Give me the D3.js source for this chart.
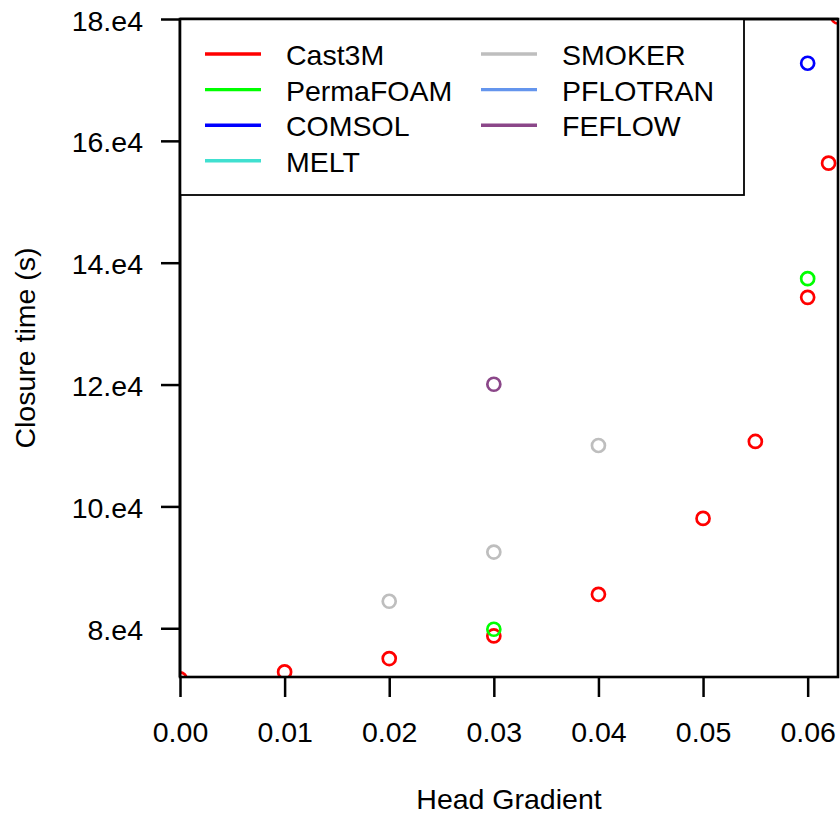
<!DOCTYPE html>
<html>
<head>
<meta charset="utf-8">
<script src="https://cdn.jsdelivr.net/npm/d3@7"></script>
<style>
  html, body { margin: 0; padding: 0; background: #fff; }
  text { font-family: "Liberation Sans", Arial, sans-serif; fill: #000; }
</style>
</head>
<body>
<svg id="chart" width="840" height="815"></svg>
<script>
// ---- data ----
const seriesNames = ["Cast3M", "PermaFOAM", "COMSOL", "MELT", "SMOKER", "PFLOTRAN", "FEFLOW"];
const seriesColors = ["#FF0000", "#00FF00", "#0000FF", "#40E0D0", "#BEBEBE", "#6495ED", "#8B4789"];

const cast3mX = [0.00, 0.01, 0.02, 0.03, 0.04, 0.05, 0.055, 0.06, 0.062, 0.0629];
const cast3mY = [71700, 72840, 75030, 78740, 85570, 98030, 110660, 134310, 156340, 180330];
const permafoamX = [0.03, 0.06];
const permafoamY = [79840, 137380];
const comsolX = [0.06];
const comsolY = [172740];
const smokerX = [0.02, 0.03, 0.04];
const smokerY = [84430, 92510, 110000];
const feflowX = [0.03];
const feflowY = [120050];

const xTicks = [0.00, 0.01, 0.02, 0.03, 0.04, 0.05, 0.06];
const xTickLabels = ["0.00", "0.01", "0.02", "0.03", "0.04", "0.05", "0.06"];
const yTicks = [80000, 100000, 120000, 140000, 160000, 180000];
const yTickLabels = ["8.e4", "10.e4", "12.e4", "14.e4", "16.e4", "18.e4"];

const xTitle = "Head Gradient";
const yTitle = "Closure time (s)";

// ---- layout ----
const svg = d3.select("#chart");
const L = 180, R = 838, T = 19, B = 677;
const FS = 28.5;

const x = d3.scaleLinear().domain([0, 0.0629]).range([L, R]);
const y = d3.scaleLinear().domain([72000, 180000]).range([B, T]);

const defs = svg.append("defs");
defs.append("clipPath").attr("id", "plotclip")
  .append("rect").attr("x", L).attr("y", T).attr("width", R - L).attr("height", B - T);

// points
const series = [
  { name: "Cast3M", xs: cast3mX, ys: cast3mY },
  { name: "PermaFOAM", xs: permafoamX, ys: permafoamY },
  { name: "COMSOL", xs: comsolX, ys: comsolY },
  { name: "SMOKER", xs: smokerX, ys: smokerY },
  { name: "FEFLOW", xs: feflowX, ys: feflowY }
];
const gPts = svg.append("g").attr("clip-path", "url(#plotclip)");
series.forEach(s => {
  const col = seriesColors[seriesNames.indexOf(s.name)];
  const pts = s.xs.map((v, i) => [v, s.ys[i]]);
  gPts.selectAll(null).data(pts).enter().append("circle")
    .attr("cx", d => x(d[0])).attr("cy", d => y(d[1]))
    .attr("r", 6.5).attr("fill", "none")
    .attr("stroke", col).attr("stroke-width", 2.7);
});

// x axis
const xAxis = d3.axisBottom(x).tickValues(xTicks)
  .tickFormat((d, i) => xTickLabels[i]).tickSize(20).tickSizeOuter(0);
const gx = svg.append("g").attr("transform", `translate(0,${B})`).call(xAxis);
gx.select(".domain").remove();
gx.selectAll(".tick line").attr("stroke", "#000").attr("stroke-width", 2.5);
gx.selectAll(".tick text").attr("y", 65).attr("dy", 0)
  .style("font-size", FS + "px").style("font-family", "'Liberation Sans', Arial, sans-serif").attr("fill", "#000");

// y axis
const yAxis = d3.axisLeft(y).tickValues(yTicks)
  .tickFormat((d, i) => yTickLabels[i]).tickSize(19).tickSizeOuter(0);
const gy = svg.append("g").attr("transform", `translate(${L},0)`).call(yAxis);
gy.select(".domain").remove();
gy.selectAll(".tick line").attr("stroke", "#000").attr("stroke-width", 2.5);
gy.selectAll(".tick text").attr("x", -37).attr("dy", 0).attr("y", 11)
  .style("font-size", FS + "px").style("font-family", "'Liberation Sans', Arial, sans-serif").attr("fill", "#000");

// box
svg.append("rect").attr("x", L).attr("y", T).attr("width", R - L).attr("height", B - T)
  .attr("fill", "none").attr("stroke", "#000").attr("stroke-width", 2.6);

// titles
svg.append("text").attr("x", (L + R) / 2).attr("y", 809).attr("text-anchor", "middle")
  .style("font-size", FS + "px").text(xTitle);
svg.append("text").attr("transform", `translate(35,${(T + B) / 2}) rotate(-90)`)
  .attr("text-anchor", "middle").style("font-size", FS + "px").text(yTitle);

// legend
const lg = svg.append("g");
lg.append("rect").attr("x", L).attr("y", T).attr("width", 744 - L).attr("height", 195 - T)
  .attr("fill", "#fff").attr("stroke", "#000").attr("stroke-width", 1.8);
const colX = [205, 481];
const rowY0 = 54, rowDY = 35.6;
seriesNames.forEach((n, i) => {
  const c = i < 4 ? 0 : 1;
  const r = i < 4 ? i : i - 4;
  const yy = rowY0 + r * rowDY;
  lg.append("line").attr("x1", colX[c]).attr("x2", colX[c] + 56)
    .attr("y1", yy).attr("y2", yy)
    .attr("stroke", seriesColors[i]).attr("stroke-width", 3.4);
  lg.append("text").attr("x", colX[c] + 81).attr("y", yy + 11)
    .style("font-size", FS + "px").text(n);
});
// redraw box edges shared with legend
svg.append("line").attr("x1", L).attr("x2", L).attr("y1", T).attr("y2", B)
  .attr("stroke", "#000").attr("stroke-width", 2.6);
svg.append("line").attr("x1", L).attr("x2", R).attr("y1", T).attr("y2", T)
  .attr("stroke", "#000").attr("stroke-width", 2.6);
</script>
</body>
</html>
